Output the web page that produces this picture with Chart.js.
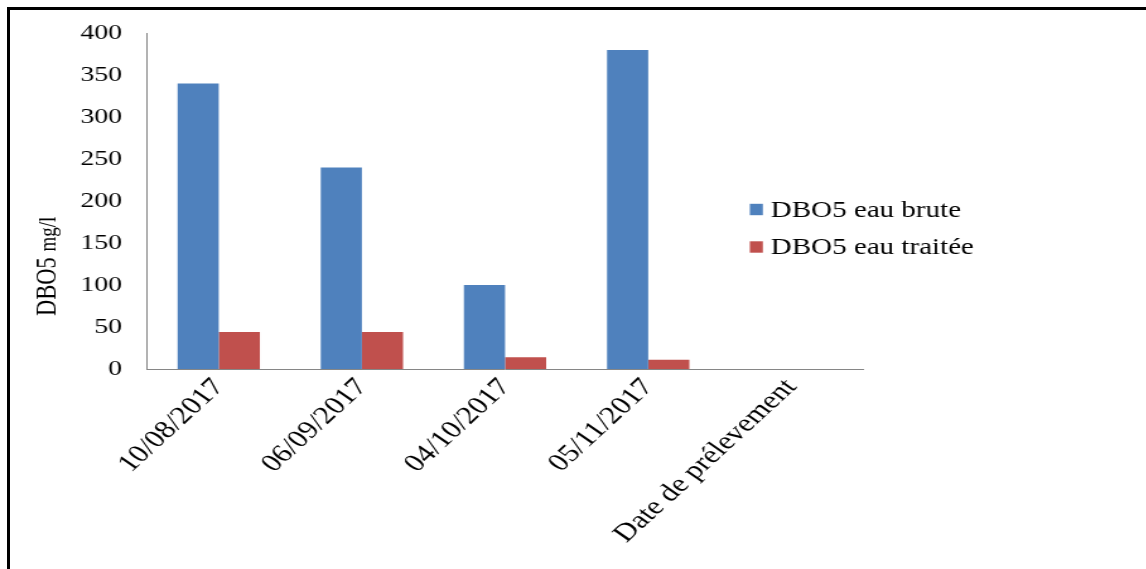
<!DOCTYPE html>
<html>
<head>
<meta charset="utf-8">
<title>DBO5</title>
<script src="https://cdn.jsdelivr.net/npm/chart.js@4/dist/chart.umd.min.js"></script>
<style>
  html, body { margin: 0; padding: 0; background: #fff; }
  #page { position: relative; width: 1146px; height: 569px; overflow: hidden; background: #fff; }
  #stretch { position: absolute; left: 0; top: 0; height: 569px; transform-origin: 0 0; }
  #frame { position: absolute; left: 7px; top: 7px; right: -10px; bottom: -10px;
           border-left: 3px solid #000; border-top: 3px solid #000; pointer-events: none; }
</style>
</head>
<body>
<div id="page">
  <div id="stretch"><canvas id="chart"></canvas></div>
  <div id="frame"></div>
</div>
<script>
// Sampling dates and BOD5 values (mg/l)
const categories = ['10/08/2017', '06/09/2017', '04/10/2017', '05/11/2017', 'Date de prélevement'];
const dboBrute   = [340, 240, 100, 380, null];
const dboTraitee = [44, 44, 14, 11, null];
const seriesNames = ['DBO5 eau brute', 'DBO5 eau traitée'];
const seriesColors = ['#4F81BD', '#C0504D'];
const yMin = 0, yMax = 400, yStep = 50;

// The figure is drawn slightly condensed, then widened horizontally
const S = 1.26;
const W = 1146 / S;
const stretch = document.getElementById('stretch');
stretch.style.width = W + 'px';
stretch.style.transform = 'scaleX(' + S + ')';

const serif = "'Liberation Serif', 'Times New Roman', Times, serif";
const axisGrey = '#868686';

// Vertical axis title: "DBO5" followed by a smaller "mg/l"
const yTitle = {
  id: 'yTitle',
  afterDraw(chart) {
    const { ctx } = chart;
    ctx.save();
    ctx.translate(56 / S, 316);
    ctx.rotate(-Math.PI / 2);
    ctx.fillStyle = '#000';
    ctx.textBaseline = 'alphabetic';
    ctx.textAlign = 'left';
    ctx.font = '22.5px ' + serif;
    ctx.fillText('DBO5', 0, 0);
    const w = ctx.measureText('DBO5 ').width;
    ctx.font = '19px ' + serif;
    ctx.fillText('mg/l', w, 0);
    ctx.restore();
  }
};

// Legend placed inside the plot, to the right of the last bars
const legendRows = [209.5, 247];
const sideLegend = {
  id: 'sideLegend',
  afterDraw(chart) {
    const { ctx } = chart;
    ctx.save();
    chart.data.datasets.forEach((ds, i) => {
      const y = legendRows[i];
      ctx.fillStyle = ds.backgroundColor;
      ctx.fillRect(749 / S, y - 5.7, 13 / S, 11.4);
      ctx.fillStyle = '#000';
      ctx.font = '23px ' + serif;
      ctx.textBaseline = 'middle';
      ctx.textAlign = 'left';
      ctx.fillText(ds.label, 770 / S, y + 1);
    });
    ctx.restore();
  }
};

new Chart(document.getElementById('chart'), {
  type: 'bar',
  data: {
    labels: categories,
    datasets: [
      { label: seriesNames[0], data: dboBrute, backgroundColor: seriesColors[0] },
      { label: seriesNames[1], data: dboTraitee, backgroundColor: seriesColors[1] }
    ]
  },
  options: {
    responsive: true,
    maintainAspectRatio: false,
    animation: false,
    events: [],
    layout: { padding: { top: 33, right: W - 862 / S, left: 0, bottom: 0 } },
    datasets: { bar: { categoryPercentage: 0.575, barPercentage: 1 } },
    plugins: { legend: { display: false }, tooltip: { enabled: false } },
    scales: {
      x: {
        grid: { display: false, drawTicks: false },
        border: { display: true, color: axisGrey, width: 1 },
        ticks: {
          color: '#000', font: { family: serif, size: 25 },
          minRotation: 49, maxRotation: 49, autoSkip: false, padding: 4
        },
        afterFit(scale) { scale.height = 200; }
      },
      y: {
        min: yMin, max: yMax,
        grid: { display: false, drawTicks: false },
        border: { display: true, color: axisGrey, width: 1 },
        ticks: { stepSize: yStep, color: '#000', font: { family: serif, size: 22 }, padding: 20 },
        afterFit(scale) { scale.width = 147 / S; }
      }
    }
  },
  plugins: [yTitle, sideLegend]
});
</script>
</body>
</html>
